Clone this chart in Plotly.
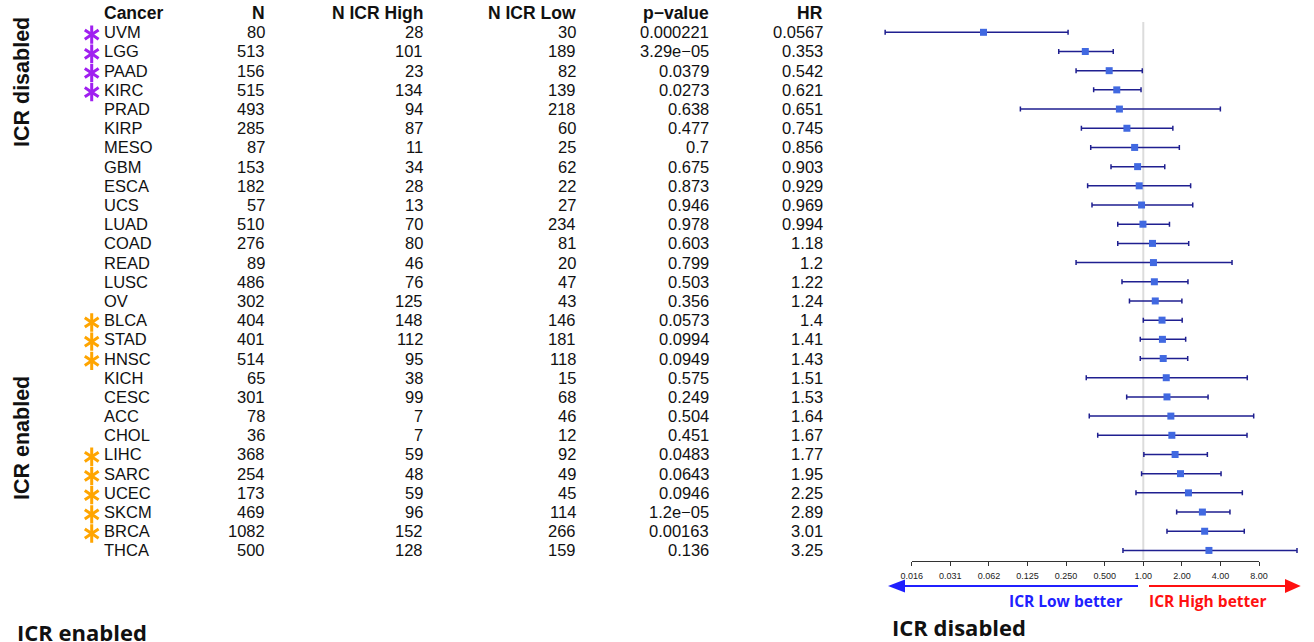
import math
import plotly.graph_objects as go

# ---- data -------------------------------------------------------------
cancers = ["UVM", "LGG", "PAAD", "KIRC", "PRAD", "KIRP", "MESO", "GBM", "ESCA", "UCS",
           "LUAD", "COAD", "READ", "LUSC", "OV", "BLCA", "STAD", "HNSC", "KICH", "CESC",
           "ACC", "CHOL", "LIHC", "SARC", "UCEC", "SKCM", "BRCA", "THCA"]
n_total = [80, 513, 156, 515, 493, 285, 87, 153, 182, 57, 510, 276, 89, 486, 302, 404,
           401, 514, 65, 301, 78, 36, 368, 254, 173, 469, 1082, 500]
n_high = [28, 101, 23, 134, 94, 87, 11, 34, 28, 13, 70, 80, 46, 76, 125, 148, 112, 95,
          38, 99, 7, 7, 59, 48, 59, 96, 152, 128]
n_low = [30, 189, 82, 139, 218, 60, 25, 62, 22, 27, 234, 81, 20, 47, 43, 146, 181, 118,
         15, 68, 46, 12, 92, 49, 45, 114, 266, 159]
p_value = [0.000221, 3.29e-05, 0.0379, 0.0273, 0.638, 0.477, 0.7, 0.675, 0.873, 0.946,
           0.978, 0.603, 0.799, 0.503, 0.356, 0.0573, 0.0994, 0.0949, 0.575, 0.249,
           0.504, 0.451, 0.0483, 0.0643, 0.0946, 1.2e-05, 0.00163, 0.136]
hr = [0.0567, 0.353, 0.542, 0.621, 0.651, 0.745, 0.856, 0.903, 0.929, 0.969, 0.994,
      1.18, 1.2, 1.22, 1.24, 1.4, 1.41, 1.43, 1.51, 1.53, 1.64, 1.67, 1.77, 1.95, 2.25,
      2.89, 3.01, 3.25]
ci_low = [0.0097, 0.219, 0.299, 0.410, 0.110, 0.329, 0.389, 0.56, 0.368, 0.398, 0.632,
          0.632, 0.299, 0.682, 0.78, 1.00, 0.947, 0.947, 0.359, 0.742, 0.379, 0.441,
          1.01, 0.97, 0.877, 1.82, 1.53, 0.694]
ci_high = [0.259, 0.583, 0.982, 0.96, 3.99, 1.70, 1.91, 1.47, 2.34, 2.43, 1.60, 2.26,
           4.92, 2.23, 2.00, 2.01, 2.14, 2.22, 6.47, 3.20, 7.26, 6.44, 3.16, 4.04, 5.92,
           4.74, 6.13, 15.8]
# significance flag per row: "dis" = ICR disabled, "en" = ICR enabled
signif = ["dis", "dis", "dis", "dis", "", "", "", "", "", "", "", "", "", "", "",
          "en", "en", "en", "", "", "", "", "en", "en", "en", "en", "en", ""]
headers = ["Cancer", "N", "N ICR High", "N ICR Low", "p\u2212value", "HR"]
hr_ticks = [2 ** k for k in range(-6, 4)]
hr_tick_text = ["0.016", "0.031", "0.062", "0.125", "0.250", "0.500",
                "1.00", "2.00", "4.00", "8.00"]

# ---- layout geometry (pixels) ----------------------------------------
W, H = 1314, 642
ROW0, ROW_STEP = 32.3, 19.19          # pixel centre of first row, row pitch
X_ONE, PX_PER_DOUBLING = 1143.3, 38.6  # pixel of HR = 1 and log2 scale
PX_PER_DECADE = PX_PER_DOUBLING / math.log10(2)


def log_range(px_left, px_right):
    return [(px_left - X_ONE) / PX_PER_DECADE, (px_right - X_ONE) / PX_PER_DECADE]


rows = list(range(len(cancers)))
y_range = [(H - ROW0) / ROW_STEP, -ROW0 / ROW_STEP]

TXT = "Liberation Sans, Arial, Helvetica, sans-serif"
CAL = "Open Sans, sans-serif"

fig = go.Figure()

# line of no effect
fig.add_trace(go.Scatter(
    x=[1, 1], y=[-0.54, 27.5], mode="lines", xaxis="x", yaxis="y",
    line=dict(color="#dcdcdc", width=2), hoverinfo="skip", showlegend=False))

# hazard ratios with confidence intervals
fig.add_trace(go.Scatter(
    x=hr, y=rows, mode="markers", xaxis="x", yaxis="y",
    marker=dict(symbol="square", size=7, color="#4169E1"),
    error_x=dict(type="data", symmetric=False,
                 array=[h - m for m, h in zip(hr, ci_high)],
                 arrayminus=[m - l for m, l in zip(hr, ci_low)],
                 color="#1f1f90", thickness=1.5, width=2.5),
    showlegend=False, hoverinfo="skip"))

# anchor trace for the visible log axis
fig.add_trace(go.Scatter(x=[1], y=[0], xaxis="x2", yaxis="y", mode="markers",
                         marker=dict(opacity=0), showlegend=False, hoverinfo="skip"))
# anchor trace for the pixel helper axes
fig.add_trace(go.Scatter(x=[0], y=[0], xaxis="x3", yaxis="y3", mode="markers",
                         marker=dict(opacity=0), showlegend=False, hoverinfo="skip"))

# significance asterisks beside the cancer names
for flag, col in (("dis", "#A020F0"), ("en", "#FFA500")):
    ys = [r for r, s in zip(rows, signif) if s == flag]
    for sym in ("y-up-open", "y-down-open"):
        fig.add_trace(go.Scatter(
            x=[91.7] * len(ys), y=[r + 0.12 for r in ys], mode="markers",
            xaxis="x3", yaxis="y",
            marker=dict(symbol=sym, size=11.5, color=col, line=dict(color=col, width=3)),
            showlegend=False, hoverinfo="skip"))

annotations = []


def add_text(x, y, text, xanchor, size, bold=False, color="#111", family=TXT,
             yref="y", angle=0):
    annotations.append(dict(
        x=x, y=y, xref="x3", yref=yref, text=f"<b>{text}</b>" if bold else text,
        showarrow=False, xanchor=xanchor, yanchor="middle", textangle=angle,
        font=dict(family=family, size=size, color=color), borderpad=0, borderwidth=0))


# table columns: (values, x pixel, anchor)
columns = [
    (cancers, 104, "left"),
    ([str(v) for v in n_total], 265, "right"),
    ([str(v) for v in n_high], 422.7, "right"),
    ([str(v) for v in n_low], 576, "right"),
    ([("%.3g" % v).replace("-", "\u2212") for v in p_value], 708.7, "right"),
    (["%.3g" % v for v in hr], 822.7, "right"),
]

for (vals, xpos, anchor), head in zip(columns, headers):
    add_text(xpos, -1, head, anchor, 17.5, bold=True)
    for r, v in zip(rows, vals):
        add_text(xpos, r, v, anchor, 16.5)

# group labels
add_text(22, 82, "ICR disabled", "center", 21.5, bold=True, yref="y3", angle=-90)
add_text(22, 438, "ICR enabled", "center", 21.5, bold=True, yref="y3", angle=-90)
add_text(16.7, 632, "ICR enabled", "left", 22, bold=True, family=CAL, yref="y3")
add_text(891.7, 627, "ICR disabled", "left", 22, bold=True, family=CAL, yref="y3")
add_text(1123, 601, "ICR Low better", "right", 15.5, bold=True, family=CAL,
         color="#2020ff", yref="y3")
add_text(1149, 601, "ICR High better", "left", 15.5, bold=True, family=CAL,
         color="#ff1010", yref="y3")

# direction arrows below the axis
shapes = [
    dict(type="line", xref="x3", yref="y3", x0=1138, x1=900, y0=586, y1=586,
         line=dict(color="#2020ff", width=2)),
    dict(type="path", xref="x3", yref="y3", path="M888,586 L905,579.5 L905,592.5 Z",
         fillcolor="#2020ff", line=dict(width=0)),
    dict(type="line", xref="x3", yref="y3", x0=1149, x1=1288, y0=586, y1=586,
         line=dict(color="#ff1010", width=2)),
    dict(type="path", xref="x3", yref="y3", path="M1300.7,586 L1285,579 L1285,593 Z",
         fillcolor="#ff1010", line=dict(width=0)),
]

fig.update_layout(
    width=W, height=H, autosize=False,
    margin=dict(l=0, r=0, t=0, b=0, pad=0, autoexpand=False),
    paper_bgcolor="white", plot_bgcolor="rgba(0,0,0,0)",
    xaxis=dict(type="log", domain=[880 / W, 1305 / W], range=log_range(880, 1305),
               visible=False, fixedrange=True, automargin=False),
    xaxis2=dict(type="log", domain=[911.7 / W, 1259.1 / W],
                range=log_range(911.7, 1259.1), anchor="free", position=1 - 560.5 / H,
                showline=True, linecolor="#333", linewidth=1, ticks="outside",
                ticklen=4, tickcolor="#333", tickvals=hr_ticks, ticktext=hr_tick_text,
                tickfont=dict(family=TXT, size=9, color="#222"), showgrid=False,
                zeroline=False, ticklabelstandoff=3, automargin=False),
    yaxis=dict(domain=[0, 1], range=y_range, visible=False, fixedrange=True,
               automargin=False),
    xaxis3=dict(domain=[0, 1], range=[0, W], visible=False, anchor="y3",
                automargin=False),
    yaxis3=dict(domain=[0, 1], range=[H, 0], visible=False, anchor="x3",
                automargin=False),
    annotations=annotations, shapes=shapes, showlegend=False,
)

fig.write_html("out.html")
